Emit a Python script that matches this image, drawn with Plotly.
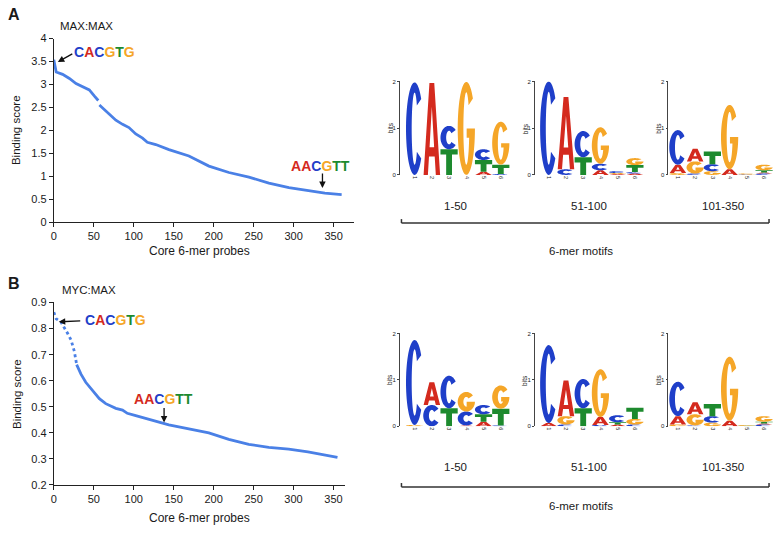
import numpy as np
import plotly.graph_objects as go

W, H = 780, 534

# ---------------- data ----------------
max_max_probe = [0, 1, 2, 3, 11, 19.5, 27.8, 36, 44.4, 50.6, 55.6, None, 57, 69.4, 77.6, 86, 94,
                 102.5, 111, 117, 127.5, 144, 169, 194, 219, 244, 269, 294, 318, 339, 360]
max_max_score = [3.54, 3.45, 3.33, 3.27, 3.22, 3.13, 3.02, 2.95, 2.88, 2.75, 2.65, None, 2.55, 2.36,
                 2.22, 2.13, 2.06, 1.92, 1.83, 1.74, 1.69, 1.58, 1.44, 1.22, 1.08, 0.98, 0.85, 0.75,
                 0.68, 0.63, 0.60]

myc_max_probe = [0, 3, 9, 13, 17.4, 21.6, 25.7, 28.6, 34, 40, 48.6, 57, 65, 77.6, 86, 92, 102.5,
                 123, 144, 169, 194, 219, 244, 269, 294, 318, 339, 355]
myc_max_score = [0.8625, 0.8375, 0.825, 0.806, 0.781, 0.756, 0.7125, 0.662, 0.625, 0.594, 0.5625,
                 0.531, 0.512, 0.494, 0.4875, 0.475, 0.466, 0.45, 0.431, 0.415, 0.40, 0.375, 0.356,
                 0.344, 0.3375, 0.327, 0.315, 0.306]

x_ticks = [0, 50, 100, 150, 200, 250, 300, 350]
max_y_ticks = [0, 0.5, 1, 1.5, 2, 2.5, 3, 3.5, 4]
myc_y_ticks = [0.2, 0.3, 0.4, 0.5, 0.6, 0.7, 0.8, 0.9]
logo_positions = [1, 2, 3, 4, 5, 6]
logo_group_labels = ["1-50", "51-100", "101-350"]

# each logo: list of positions, each a list of (letter, bits) from bottom to top
logo_max_1_50 = [
    [("C", 1.98)],
    [("A", 1.97)],
    [("T", 0.55), ("C", 0.50)],
    [("G", 1.99)],
    [("A", 0.07), ("T", 0.25), ("C", 0.23)],
    [("C", 0.02), ("T", 0.20), ("G", 0.92)],
]
logo_max_51_100 = [
    [("C", 2.0)],
    [("C", 0.12), ("A", 1.55)],
    [("T", 0.38), ("C", 0.56)],
    [("A", 0.10), ("C", 0.14), ("G", 0.78)],
    [("A", 0.02), ("G", 0.02), ("C", 0.04)],
    [("A", 0.03), ("C", 0.03), ("T", 0.15), ("G", 0.15)],
]
logo_max_101_350 = [
    [("G", 0.04), ("A", 0.18), ("C", 0.74)],
    [("C", 0.03), ("G", 0.26), ("A", 0.27)],
    [("G", 0.08), ("C", 0.15), ("T", 0.27)],
    [("A", 0.12), ("G", 1.38)],
    [("C", 0.01), ("G", 0.02)],
    [("C", 0.03), ("A", 0.02), ("T", 0.05), ("G", 0.12)],
]
logo_myc_1_50 = [
    [("G", 0.03), ("C", 1.83)],
    [("C", 0.46), ("A", 0.49)],
    [("T", 0.39), ("C", 0.70)],
    [("A", 0.02), ("C", 0.30), ("G", 0.42)],
    [("A", 0.10), ("T", 0.16), ("C", 0.20)],
    [("C", 0.02), ("T", 0.36), ("G", 0.50)],
]
logo_myc_51_100 = [
    [("A", 0.07), ("C", 1.68)],
    [("C", 0.04), ("G", 0.18), ("A", 0.77)],
    [("T", 0.39), ("C", 0.63)],
    [("C", 0.03), ("A", 0.17), ("G", 1.03)],
    [("A", 0.04), ("T", 0.05), ("C", 0.15)],
    [("C", 0.04), ("G", 0.12), ("T", 0.24)],
]
logo_myc_101_350 = [
    [("G", 0.04), ("A", 0.18), ("C", 0.74)],
    [("C", 0.02), ("G", 0.24), ("A", 0.26)],
    [("G", 0.08), ("C", 0.14), ("T", 0.26)],
    [("A", 0.12), ("G", 1.38)],
    [("T", 0.01), ("G", 0.02)],
    [("C", 0.04), ("A", 0.02), ("T", 0.04), ("G", 0.12)],
]
logos = [logo_max_1_50, logo_max_51_100, logo_max_101_350,
         logo_myc_1_50, logo_myc_51_100, logo_myc_101_350]

# ---------------- style ----------------
BASE_COL = {"A": "#d42a1e", "C": "#1f3fc9", "G": "#f5a628", "T": "#1d8a2e"}
LINE_COL = "#4a80e6"
AX_COL = "#222222"
TXT = "#1a1a1a"
FONT = "Liberation Sans, Arial, sans-serif"


def px_x(p):
    return p / W


def px_y(p):
    return 1 - p / H


def glyph_polys(letter, hpx):
    hpx = max(hpx, 0.5)
    ty = min(0.26, max(0.11, 5.0 / hpx))
    if letter == "T":
        tb = min(0.36, max(0.14, 5.5 / hpx))
        return [[(0, 1), (1, 1), (1, 1 - tb), (0.67, 1 - tb), (0.67, 0), (0.33, 0),
                 (0.33, 1 - tb), (0, 1 - tb)]]
    if letter == "A":
        k = 0.24 / 0.74
        cb0 = 0.2
        tb = min(0.2, max(0.1, 4.0 / hpx))
        cb1 = cb0 + tb
        outer = [(0.02, 0), (0.36, 1), (0.64, 1), (0.98, 0), (0.73, 0), (0.73 - k * cb0, cb0),
                 (0.27 + k * cb0, cb0), (0.27, 0)]
        hole = [(0.27 + k * cb1, cb1), (0.73 - k * cb1, cb1), (0.5, 0.74)]
        return [outer, hole]
    rxo, ryo = 0.5, 0.5
    rxi, ryi = 0.5 - 0.33, 0.5 - ty
    if letter == "C":
        th = np.radians(np.linspace(40, 320, 56))
        outer = [(0.5 + rxo * np.cos(t), 0.5 + ryo * np.sin(t)) for t in th]
        inner = [(0.5 + rxi * np.cos(t), 0.5 + ryi * np.sin(t)) for t in th[::-1]]
        return [outer + inner]
    # G
    tb = min(0.3, max(0.1, 4.5 / hpx))
    th = np.radians(np.linspace(40, 360, 56))
    outer = [(0.5 + rxo * np.cos(t), 0.5 + ryo * np.sin(t)) for t in th]
    bar = [(0.52, 0.5), (0.52, 0.5 - tb)]
    s = min(tb / ryi, 0.95)
    ti = 2 * np.pi - np.arcsin(s)
    th_in = np.linspace(ti, np.radians(40), 50)
    inner = [(0.5 + rxi * np.cos(t), 0.5 + ryi * np.sin(t)) for t in th_in]
    return [outer + bar + inner]


def seq_html(s):
    return "<b>" + "".join(f'<span style="color:{BASE_COL[c]}">{c}</span>' for c in s) + "</b>"


fig = go.Figure()

# ---------------- line charts ----------------
fig.add_trace(go.Scatter(x=max_max_probe, y=max_max_score, mode="lines",
                         line=dict(color=LINE_COL, width=2.8), xaxis="x", yaxis="y",
                         connectgaps=False, hoverinfo="skip"))

split = 8  # first points drawn dotted
fig.add_trace(go.Scatter(x=myc_max_probe[:split], y=myc_max_score[:split], mode="lines",
                         line=dict(color=LINE_COL, width=2.8, dash="dot"), xaxis="x2", yaxis="y2",
                         hoverinfo="skip"))
fig.add_trace(go.Scatter(x=myc_max_probe[split - 1:], y=myc_max_score[split - 1:], mode="lines",
                         line=dict(color=LINE_COL, width=2.8), xaxis="x2", yaxis="y2",
                         hoverinfo="skip"))

ax_common = dict(showline=True, linecolor=AX_COL, linewidth=1, ticks="outside", ticklen=4,
                 tickcolor=AX_COL, tickwidth=1, showgrid=False, zeroline=False,
                 tickfont=dict(size=11, color=TXT, family=FONT))

layout = dict(
    width=W, height=H, margin=dict(l=0, r=0, t=0, b=0),
    paper_bgcolor="white", plot_bgcolor="white", showlegend=False,
    font=dict(family=FONT, size=11, color=TXT),
    xaxis=dict(ax_common, domain=[px_x(51), px_x(352)], range=[0, 375], tickvals=x_ticks,
               anchor="y"),
    yaxis=dict(ax_common, domain=[px_y(221), px_y(33.3)], range=[0, 4.001], tickvals=max_y_ticks,
               ticktext=[f"{v:g}" for v in max_y_ticks], anchor="x"),
    xaxis2=dict(ax_common, domain=[px_x(51), px_x(343)], range=[0, 364], tickvals=x_ticks,
                anchor="y2"),
    yaxis2=dict(ax_common, domain=[px_y(490), px_y(303.3)], range=[0.2, 0.9001],
                tickvals=myc_y_ticks, ticktext=[f"{v:g}" for v in myc_y_ticks], anchor="x2"),
)

# ---------------- sequence logos ----------------
logo_axis_px = [398.5, 534.0, 668.0]
logo_xstart = [0.15, 0.2, 0.45]
spacing = 17.3
row_y = [(172.8, 77.2), (430.0, 335.0)]  # (pixel of 0 bits, pixel of 2 bits)
letter_w = 1.0


def paper_text(text, x, y, size, **kw):
    d = dict(text=text, x=px_x(x), y=px_y(y), xref="paper", yref="paper", showarrow=False,
             xanchor="center", yanchor="middle", font=dict(size=size, color=TXT, family=FONT))
    d.update(kw)
    return d


shapes = []
annotations = []
for i, logo in enumerate(logos):
    r, c = divmod(i, 3)
    n = i + 3
    x0px = logo_axis_px[c]
    x1px = x0px + (6.6 - logo_xstart[c]) * spacing
    y0px, y2px = row_y[r]
    ppb = (y0px - y2px) / 2.0
    layout[f"xaxis{n}"] = dict(domain=[px_x(x0px), px_x(x1px)], range=[logo_xstart[c], 6.6],
                               anchor=f"y{n}", showline=False, showgrid=False, zeroline=False,
                               tickvals=logo_positions, ticktext=[str(p) for p in logo_positions],
                               tickangle=90, ticks="", ticklen=0,
                               tickfont=dict(size=5.5, color=TXT, family=FONT))
    layout[f"yaxis{n}"] = dict(domain=[px_y(y0px), px_y(y2px)], range=[0, 2.001], anchor=f"x{n}",
                               showline=True, linecolor="#444", linewidth=0.8, showgrid=False,
                               zeroline=False, ticks="outside", ticklen=2, tickwidth=0.8,
                               tickcolor="#444", tickvals=[0, 1, 2],
                               tickfont=dict(size=6, color=TXT, family=FONT))
    annotations.append(paper_text("bits", x0px - 10, (y0px + y2px) / 2, 6.5, textangle=-90))
    for p, stack in zip(logo_positions, logo):
        base = 0.0
        for letter, h in stack:
            polys = glyph_polys(letter, h * ppb)
            parts = []
            for poly in polys:
                pts = [(p - letter_w / 2 + u * letter_w, base + v * h) for u, v in poly]
                parts.append("M " + " L ".join(f"{a:.4f},{b:.5f}" for a, b in pts) + " Z")
            shapes.append(dict(type="path", path=" ".join(parts), xref=f"x{n}", yref=f"y{n}",
                               fillcolor=BASE_COL[letter], line=dict(width=0), layer="above"))
            base += h

# group labels and brackets
label_x = [454, 588, 723]
for (lab_y, br_y, mot_y) in [(205, 222, 251), (472, 492, 512)]:
    for lx, lab in zip(label_x, logo_group_labels):
        annotations.append(paper_text(lab, lx, lab_y, 11.5))
    annotations.append(paper_text("6-mer motifs", 580, mot_y, 11.5))
    for seg in [(400, br_y, 769, br_y), (400, br_y - 4, 400, br_y), (769, br_y - 4, 769, br_y)]:
        shapes.append(dict(type="line", xref="paper", yref="paper",
                           x0=px_x(seg[0]), y0=px_y(seg[1]), x1=px_x(seg[2]), y1=px_y(seg[3]),
                           line=dict(color="#333", width=1.5)))

# ---------------- panel texts ----------------
annotations += [
    paper_text("<b>A</b>", 3, 9, 16, xanchor="left"),
    paper_text("MAX:MAX", 55, 20, 11.5, xanchor="left"),
    paper_text("<b>B</b>", 3, 284, 16, xanchor="left"),
    paper_text("MYC:MAX", 57, 291, 11.5, xanchor="left"),
    paper_text("Binding score", 13, 127, 11.5, textangle=-90),
    paper_text("Binding score", 14, 397, 11.5, textangle=-90),
    paper_text("Core 6-mer probes", 197, 251, 12),
    paper_text("Core 6-mer probes", 197, 524, 12),
]

# sequence callouts
arrow = dict(showarrow=True, arrowhead=2, arrowsize=1, arrowwidth=1.3, arrowcolor="#111", text="")
seq_font = dict(size=14, family=FONT)
annotations += [
    dict(text=seq_html("CACGTG"), x=64, y=3.71, xref="x", yref="y", showarrow=False,
         xanchor="center", yanchor="middle", font=seq_font),
    dict(arrow, x=5, y=3.49, xref="x", yref="y", ax=16, ay=-9),
    dict(text=seq_html("AACGTT"), x=333, y=1.23, xref="x", yref="y", showarrow=False,
         xanchor="center", yanchor="middle", font=seq_font),
    dict(arrow, x=336, y=0.74, xref="x", yref="y", ax=0, ay=-16),
    dict(text=seq_html("CACGTG"), x=76.6, y=0.834, xref="x2", yref="y2", showarrow=False,
         xanchor="center", yanchor="middle", font=seq_font),
    dict(arrow, x=6.2, y=0.826, xref="x2", yref="y2", ax=23, ay=-1),
    dict(text=seq_html("AACGTT"), x=137, y=0.530, xref="x2", yref="y2", showarrow=False,
         xanchor="center", yanchor="middle", font=seq_font),
    dict(arrow, x=138, y=0.44, xref="x2", yref="y2", ax=0, ay=-16),
]

layout["shapes"] = shapes
layout["annotations"] = annotations
fig.update_layout(**layout)
fig.write_html("out.html", config={"displayModeBar": False},
               post_script="document.body.style.margin='0px';")
